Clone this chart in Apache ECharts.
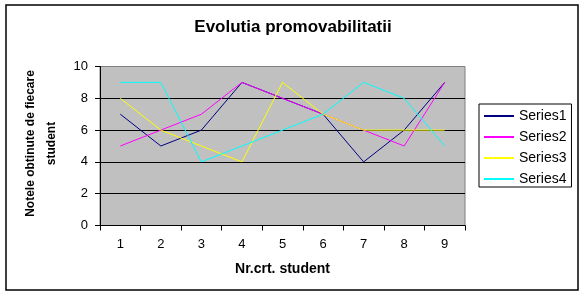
<!DOCTYPE html>
<html>
<head>
<meta charset="utf-8">
<script src="https://cdn.jsdelivr.net/npm/echarts@6/dist/echarts.min.js"></script>
<style>
html,body{margin:0;padding:0;background:#fff;}
#c{width:586px;height:296px;}
</style>
</head>
<body>
<div id="c"></div>
<script>
const categories = ['1','2','3','4','5','6','7','8','9'];
const series1 = [7,5,6,9,8,7,4,6,9];
const series2 = [5,6,7,9,8,7,6,5,9];
const series3 = [8,6,5,4,9,7,6,6,6];
const series4 = [9,9,4,5,6,7,9,8,5];
const seriesNames = ['Series1','Series2','Series3','Series4'];
const colors = ['#000080','#FF00FF','#FFFF00','#00FFFF'];

const chart = echarts.init(document.getElementById('c'), null, {renderer:'canvas'});
const FONT = 'Liberation Sans, Arial, sans-serif';
const data = [series1, series2, series3, series4];
chart.setOption({
  animation:false,
  backgroundColor:'#fff',
  textStyle:{fontFamily:FONT},
  title:{
    text:'Evolutia promovabilitatii',
    left:'center', top:14,
    textStyle:{fontFamily:FONT, fontSize:17, fontWeight:'bold', color:'#000'}
  },
  graphic:[{
    type:'rect', shape:{x:6, y:5, width:572, height:285},
    style:{fill:'none', stroke:'#000', lineWidth:1.5}, z:-1
  }],
  legend:{
    orient:'vertical', left:479, top:104,
    data:seriesNames,
    itemWidth:30, itemHeight:14, itemGap:7,
    padding:[5,5,1,4],
    borderColor:'#000', borderWidth:1,
    textStyle:{fontFamily:FONT, fontSize:14, color:'#000'},
    itemStyle:{opacity:0}
  },
  grid:{
    left:100, top:66.5, right:121, bottom:70.5,
    show:true, backgroundColor:'#C0C0C0', borderColor:'#808080', borderWidth:1
  },
  xAxis:{
    type:'category', data:categories, boundaryGap:true,
    name:'Nr.crt. student', nameLocation:'middle', nameGap:37,
    nameTextStyle:{fontFamily:FONT, fontSize:14, fontWeight:'bold', color:'#000'},
    axisLine:{lineStyle:{color:'#000', width:1}},
    axisTick:{show:true, length:5, lineStyle:{color:'#000'}},
    axisLabel:{margin:12, fontFamily:FONT, fontSize:13, color:'#000'},
    splitLine:{show:false}
  },
  yAxis:{
    type:'value', min:0, max:10, interval:2,
    name:'Notele obtinute de fiecare\nstudent', nameLocation:'middle', nameGap:36,
    nameRotate:90,
    nameTextStyle:{fontFamily:FONT, fontSize:12, fontWeight:'bold', color:'#000', lineHeight:21, align:'center', padding:[0,0,0,5]},
    axisLine:{show:true, lineStyle:{color:'#000', width:1}},
    axisTick:{show:true, length:5, lineStyle:{color:'#000'}},
    axisLabel:{margin:12, fontFamily:FONT, fontSize:13, color:'#000'},
    splitLine:{show:true, lineStyle:{color:['#000','#000','#000','#000','#000','#808080'], width:1}}
  },
  series: data.map((d,i)=>({
    name:seriesNames[i], type:'line', data:d,
    symbol:'none', showSymbol:false,
    lineStyle:{color:colors[i], width:1},
    itemStyle:{color:colors[i]}
  }))
});
</script>
</body>
</html>
